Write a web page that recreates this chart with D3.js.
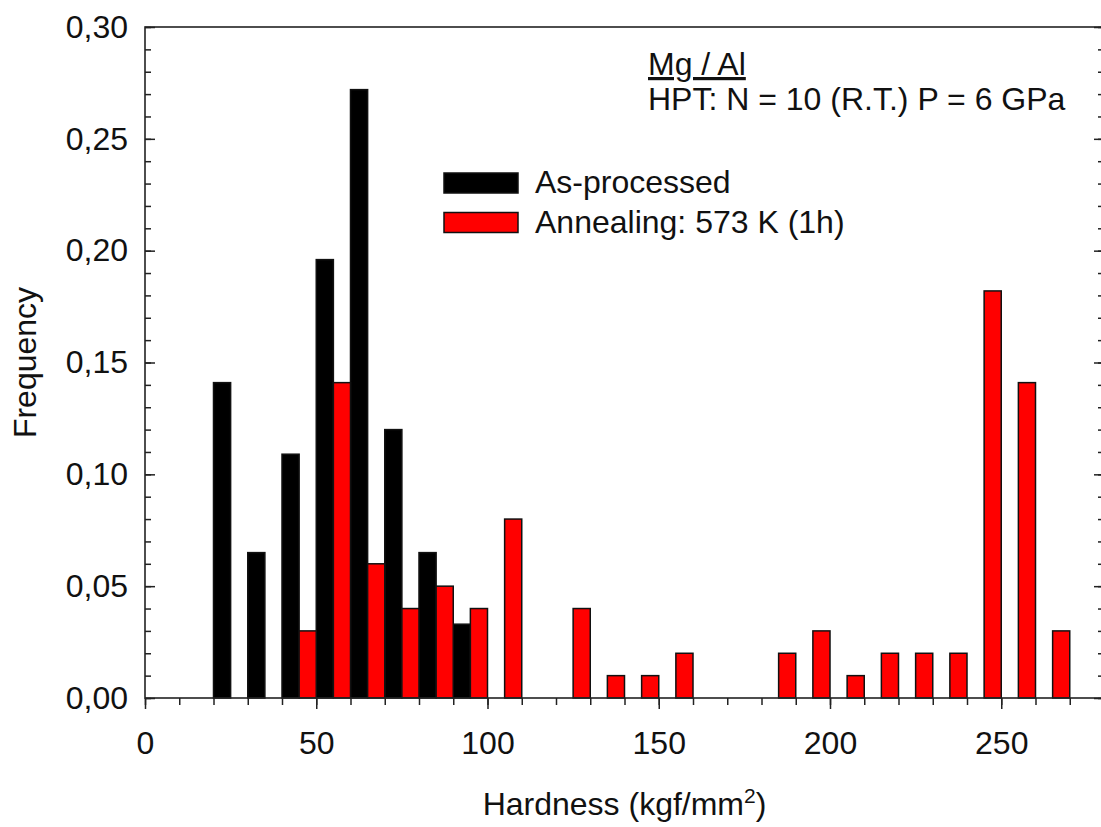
<!DOCTYPE html>
<html>
<head>
<meta charset="utf-8">
<script src="https://cdn.jsdelivr.net/npm/d3@7"></script>
<style>
    body { margin: 0; background: #fff; }
    text { font-family: "Liberation Sans", Arial, sans-serif; fill: #111; }
</style>
</head>
<body>
<svg id="chart"></svg>
<script>
// bin left edges (kgf/mm2) and frequencies
const binWidth = 5;
const asProcessedBins = [20, 30, 40, 50, 60, 70, 80, 90];
const asProcessedFreq = [0.141, 0.065, 0.109, 0.196, 0.272, 0.120, 0.065, 0.033];
const annealedBins = [45, 55, 65, 75, 85, 95, 105, 125, 135, 145, 155, 185, 195, 205, 215, 225, 235, 245, 255, 265];
const annealedFreq = [0.030, 0.141, 0.060, 0.040, 0.050, 0.040, 0.080, 0.040, 0.010, 0.010, 0.020,
                      0.020, 0.030, 0.010, 0.020, 0.020, 0.020, 0.182, 0.141, 0.030];
const xMajorTicks = [0, 50, 100, 150, 200, 250];
const yMajorTicks = [0, 0.05, 0.10, 0.15, 0.20, 0.25, 0.30];
const seriesNames = ["As-processed", "Annealing: 573 K (1h)"];
const seriesColors = ["#000000", "#ff0000"];

const config = {
    containerWidth: 1101,
    containerHeight: 827,
    margin: { top: 27, right: -3, bottom: 129, left: 145 },
    fontSize: 32
};

let vis = {};
vis.width = config.containerWidth - config.margin.left - config.margin.right;
vis.height = config.containerHeight - config.margin.top - config.margin.bottom;

vis.svg = d3.select('#chart')
    .attr('width', config.containerWidth)
    .attr('height', config.containerHeight);

vis.chart = vis.svg.append('g')
    .attr('transform', `translate(${config.margin.left},${config.margin.top})`);

vis.xScale = d3.scaleLinear().domain([0, 280]).range([0, vis.width]);
vis.yScale = d3.scaleLinear().domain([0, 0.30]).range([vis.height, 0]);

const commaFormat = d => d3.format('.2f')(d).replace('.', ',');

// bars
const asProcessed = asProcessedBins.map((b, i) => ({ bin: b, freq: asProcessedFreq[i] }));
const annealed = annealedBins.map((b, i) => ({ bin: b, freq: annealedFreq[i] }));

[asProcessed, annealed].forEach((series, s) => {
    vis.chart.append('g').selectAll('rect')
        .data(series)
        .join('rect')
        .attr('x', d => vis.xScale(d.bin))
        .attr('width', d => vis.xScale(d.bin + binWidth) - vis.xScale(d.bin))
        .attr('y', d => vis.yScale(d.freq))
        .attr('height', d => vis.height - vis.yScale(d.freq))
        .style('fill', seriesColors[s])
        .style('stroke', '#111')
        .style('stroke-width', 1.5);
});

// x axis: minor ticks every 10, labelled majors every 50
vis.chart.append('g')
    .attr('class', 'axis')
    .attr('transform', `translate(0,${vis.height})`)
    .call(d3.axisBottom(vis.xScale).tickValues(d3.range(0, 281, 10)).tickSize(7).tickFormat(''));
vis.chart.append('g')
    .attr('class', 'axis')
    .attr('transform', `translate(0,${vis.height})`)
    .call(d3.axisBottom(vis.xScale).tickValues(xMajorTicks).tickSize(11).tickPadding(22).tickFormat(d3.format('d')));

// y axis: ticks point inward on both sides
vis.chart.append('g')
    .attr('class', 'axis')
    .call(d3.axisLeft(vis.yScale).tickValues(d3.range(0, 0.301, 0.01)).tickSizeInner(-6).tickSizeOuter(0).tickFormat(''));
vis.chart.append('g')
    .attr('class', 'axis')
    .call(d3.axisLeft(vis.yScale).tickValues(yMajorTicks).tickSizeInner(-10).tickSizeOuter(0).tickPadding(17).tickFormat(commaFormat));
vis.chart.append('g')
    .attr('class', 'axis')
    .attr('transform', `translate(${vis.width},0)`)
    .call(d3.axisRight(vis.yScale).tickValues(d3.range(0, 0.301, 0.01)).tickSizeInner(-6).tickSizeOuter(0).tickFormat(''));
vis.chart.append('g')
    .attr('class', 'axis')
    .attr('transform', `translate(${vis.width},0)`)
    .call(d3.axisRight(vis.yScale).tickValues(yMajorTicks).tickSizeInner(-10).tickSizeOuter(0).tickFormat(''));

vis.chart.selectAll('.axis .domain').remove();
vis.chart.selectAll('.axis line').style('stroke', '#222').style('stroke-width', 1.5);
vis.chart.selectAll('.axis text')
    .style('font-family', '"Liberation Sans", Arial, sans-serif')
    .style('font-size', config.fontSize + 'px')
    .style('fill', '#111');

// frame
vis.chart.append('rect')
    .attr('width', vis.width)
    .attr('height', vis.height)
    .style('fill', 'none')
    .style('stroke', '#222')
    .style('stroke-width', 1.6);

// axis titles
vis.svg.append('text')
    .attr('transform', `translate(36,${config.margin.top + vis.height / 2}) rotate(-90)`)
    .attr('text-anchor', 'middle')
    .style('font-size', config.fontSize + 'px')
    .text('Frequency');

let xTitle = vis.svg.append('text')
    .attr('x', config.margin.left + vis.width / 2)
    .attr('y', 815)
    .attr('text-anchor', 'middle')
    .style('font-size', config.fontSize + 'px');
xTitle.append('tspan').text('Hardness (kgf/mm');
xTitle.append('tspan').attr('dy', -12).style('font-size', '21px').text('2');
xTitle.append('tspan').attr('dy', 12).text(')');

// annotation
vis.svg.append('text')
    .attr('x', 648)
    .attr('y', 75)
    .style('font-size', config.fontSize + 'px')
    .style('text-decoration', 'underline')
    .text('Mg / Al');
vis.svg.append('text')
    .attr('x', 648)
    .attr('y', 110)
    .style('font-size', config.fontSize + 'px')
    .text('HPT: N = 10 (R.T.) P = 6 GPa');

// legend
let legend = vis.svg.append('g').attr('transform', 'translate(444,173)');
seriesNames.forEach((name, i) => {
    legend.append('rect')
        .attr('x', 0)
        .attr('y', i * 39.5)
        .attr('width', 74)
        .attr('height', 20)
        .style('fill', seriesColors[i])
        .style('stroke', '#111')
        .style('stroke-width', 1.5);
    legend.append('text')
        .attr('x', 91)
        .attr('y', i * 39.5 + 20)
        .style('font-size', config.fontSize + 'px')
        .text(name);
});
</script>
</body>
</html>
